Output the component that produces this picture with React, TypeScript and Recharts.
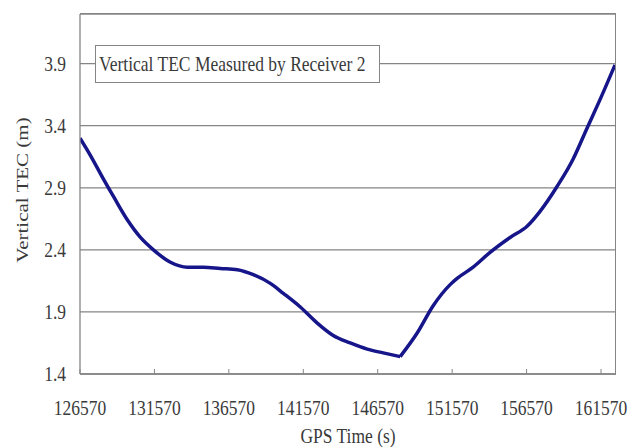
import React from "react";
import { LineChart, Line, XAxis, YAxis, CartesianGrid } from "recharts";

const gpsTime = [
  126570, 127275, 128147, 128818, 129758, 130630, 131503, 132644, 133785, 134859,
  135999, 137140, 138214, 139355, 140228, 141368, 142509, 143583, 144724, 145865,
  146939, 148080, 149221, 150295, 151436, 151906, 152980, 154120, 155463, 156604,
  157476, 158617, 159691, 160630, 161503, 162510,
];
const verticalTec = [
  3.3, 3.16, 2.97, 2.83, 2.64, 2.5, 2.4, 2.3, 2.26, 2.26,
  2.25, 2.24, 2.2, 2.13, 2.05, 1.94, 1.81, 1.71, 1.65, 1.6,
  1.57, 1.54, 1.73, 1.95, 2.12, 2.17, 2.26, 2.38, 2.5, 2.59,
  2.71, 2.91, 3.13, 3.38, 3.61, 3.89,
];
const xTicks = [126570, 131570, 136570, 141570, 146570, 151570, 156570, 161570];
const yTicks = [1.4, 1.9, 2.4, 2.9, 3.4, 3.9];

// index of the minimum: the curve has a sharp corner there
const minIndex = 21;
const data = gpsTime.map((t, i) => ({
  t,
  fall: i <= minIndex ? verticalTec[i] : null,
  rise: i >= minIndex ? verticalTec[i] : null,
}));

const FONT = "'Liberation Serif', 'Times New Roman', serif";
const TXT = "#3a3a3a";
const GRID = "#858585";
const LINE = "#16168a";

const XTick = (props: any) => {
  const { x, y, payload } = props;
  return (
    <g>
      <line x1={x} y1={y} x2={x} y2={y - 5} stroke={GRID} strokeWidth={1} />
      <text
        transform={`translate(${x},${y + 41}) scale(1,1.2)`}
        textAnchor="middle"
        fontFamily={FONT}
        fontSize={17.5}
        fill={TXT}
      >
        {payload.value}
      </text>
    </g>
  );
};

const YTick = (props: any) => {
  const { x, y, payload } = props;
  return (
    <text
      transform={`translate(${x - 14},${y + 7}) scale(1,1.2)`}
      textAnchor="end"
      fontFamily={FONT}
      fontSize={17.5}
      fill={TXT}
    >
      {payload.value.toFixed(1)}
    </text>
  );
};

export default function App() {
  return (
    <div style={{ position: "absolute", left: 0, top: 0, width: 642, height: 447, background: "#fff" }}>
      <LineChart
        width={642}
        height={447}
        data={data}
        margin={{ top: 14, right: 27, left: 0, bottom: 0 }}
      >
        <CartesianGrid vertical={false} stroke={GRID} strokeWidth={1.3} />
        <XAxis
          dataKey="t"
          type="number"
          domain={[126570, 162510]}
          ticks={xTicks}
          interval={0}
          height={73}
          tickSize={0}
          tickMargin={0}
          tickLine={false}
          stroke={GRID}
          strokeWidth={1.3}
          tick={<XTick />}
          allowDataOverflow
        />
        <YAxis
          type="number"
          domain={[1.4, 4.3]}
          ticks={yTicks}
          interval={0}
          width={80}
          tickSize={0}
          tickMargin={0}
          tickLine={false}
          stroke={GRID}
          strokeWidth={1.3}
          tick={<YTick />}
          allowDataOverflow
        />
        <Line
          dataKey="fall"
          type="monotone"
          stroke={LINE}
          strokeWidth={3.5}
          dot={false}
          isAnimationActive={false}
        />
        <Line
          dataKey="rise"
          type="monotone"
          stroke={LINE}
          strokeWidth={3.5}
          dot={false}
          isAnimationActive={false}
        />
      </LineChart>
      {/* top and right plot border */}
      <div style={{ position: "absolute", left: 80, top: 13, width: 535, height: 361, borderTop: `1.3px solid ${GRID}`, borderRight: `1.3px solid ${GRID}`, pointerEvents: "none" }} />
      <div
        style={{
          position: "absolute",
          left: 95,
          top: 45,
          width: 280,
          height: 36,
          border: `1.3px solid ${GRID}`,
          background: "#fff",
          fontFamily: FONT,
          fontSize: 17.5,
          color: TXT,
          lineHeight: "36px",
          paddingLeft: 3,
          whiteSpace: "nowrap",
          boxSizing: "content-box",
        }}
      >
        <span style={{ display: "inline-block", transform: "scaleY(1.2)" }}>Vertical TEC Measured by Receiver 2</span>
      </div>
      <svg style={{ position: "absolute", left: 0, top: 0 }} width={642} height={447} pointerEvents="none">
        <text
          transform="translate(28,190) rotate(-90) scale(1.2,1)"
          textAnchor="middle"
          fontFamily={FONT}
          fontSize={17.5}
          fill={TXT}
        >
          Vertical TEC (m)
        </text>
        <text
          transform="translate(348,443) scale(1,1.2)"
          textAnchor="middle"
          fontFamily={FONT}
          fontSize={17.5}
          fill={TXT}
        >
          GPS Time (s)
        </text>
      </svg>
    </div>
  );
}
